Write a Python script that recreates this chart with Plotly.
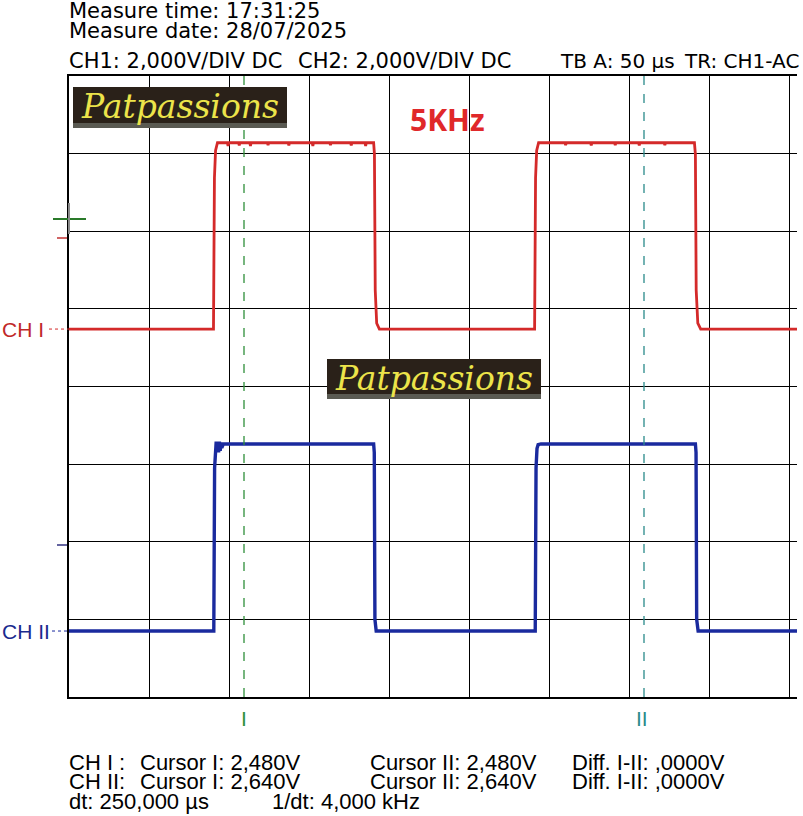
import plotly.graph_objects as go

# ---------------- data ----------------
# time in microseconds (50 us / div), voltage in volts (2 V / div)
ch1_t = [0, 90.3, 90.9, 91.6, 92.8,
         99.0, 99.4, 99.8, 106.0, 106.4, 106.8, 113.0, 113.4, 113.8, 124.0, 124.4, 124.8,
         137.0, 137.4, 137.8, 152.0, 152.4, 152.8, 163.0, 163.4, 163.8, 176.0, 176.4, 176.8,
         185.0, 185.4, 185.8,
         190.4, 190.9, 191.4, 192.3, 194.0,
         291.0, 291.6, 292.3, 293.5,
         310.0, 310.4, 310.8, 326.0, 326.4, 326.8, 341.0, 341.4, 341.8, 356.0, 356.4, 356.8,
         372.0, 372.4, 372.8,
         390.9, 391.5, 392.0, 393.0, 394.8, 455]
ch1_v = [0, 0, 3.9, 4.6, 4.8,
         4.8, 4.72, 4.8, 4.8, 4.73, 4.8, 4.8, 4.72, 4.8, 4.8, 4.74, 4.8,
         4.8, 4.73, 4.8, 4.8, 4.72, 4.8, 4.8, 4.74, 4.8, 4.8, 4.73, 4.8,
         4.8, 4.72, 4.8,
         4.8, 4.5, 1.0, 0.15, 0,
         0, 3.9, 4.6, 4.8,
         4.8, 4.74, 4.8, 4.8, 4.73, 4.8, 4.8, 4.74, 4.8, 4.8, 4.73, 4.8,
         4.8, 4.74, 4.8,
         4.8, 4.5, 1.0, 0.15, 0, 0]

ch2_t = [0, 90.5, 91.0, 91.6, 92.0, 92.5, 93.0, 93.5, 94.0, 94.5, 95.0, 95.5, 96.5,
         190.4, 190.8, 191.2, 192.0,
         291.4, 291.9, 292.5, 293.2, 295.0,
         391.5, 391.9, 392.3, 393.2, 455]
ch2_v = [0, 0, 4.2, 4.75, 4.88, 4.6, 4.88, 4.6, 4.88, 4.64, 4.86, 4.72, 4.82,
         4.82, 4.6, 0.3, 0,
         0, 4.2, 4.7, 4.8, 4.82,
         4.82, 4.6, 0.3, 0, 0]

ch1_offset_div = 0.74      # CH I ground position (divisions above centre)
ch2_offset_div = -3.15     # CH II ground position
volts_per_div = 2.0

cursor_t = [109.375, 359.375]
cursor_labels = ["I", "II"]

header_lines = ["Measure time: 17:31:25", "Measure date: 28/07/2025"]
setup_items = ["CH1: 2,000V/DIV DC", "CH2: 2,000V/DIV DC", "TB A: 50 µs", "TR: CH1-AC"]
bottom_rows = [
    ["CH I :", "Cursor I: 2,480V", "Cursor II: 2,480V", "Diff. I-II: ,0000V"],
    ["CH II:", "Cursor I: 2,640V", "Cursor II: 2,640V", "Diff. I-II: ,0000V"],
]
dt_items = ["dt: 250,000 µs", "1/dt: 4,000 kHz"]
freq_label = "5KHz"
logo_text = "Patpassions"

# ---------------- layout helpers ----------------
W, H = 803, 816
L, R, T, B = 69, 6, 76, 119
PW, PH = W - L - R, H - T - B


def px(x):
    return (x - L) / PW


def py(y):
    return (H - B - y) / PH


RED = "#d42a2a"
BLUE = "#1a2a9e"
GREEN = "#2f8f3a"
TEAL = "#2a8a8a"

fig = go.Figure()
fig.add_trace(go.Scatter(
    x=ch1_t, y=[ch1_offset_div + v / volts_per_div for v in ch1_v],
    mode="lines", line=dict(color=RED, width=2.8), hoverinfo="skip", showlegend=False))
fig.add_trace(go.Scatter(
    x=ch2_t, y=[ch2_offset_div + v / volts_per_div for v in ch2_v],
    mode="lines", line=dict(color=BLUE, width=3.4), hoverinfo="skip", showlegend=False))

shapes = []
annotations = []

# cursors
for t, lab, col in zip(cursor_t, cursor_labels, [GREEN, TEAL]):
    shapes.append(dict(type="line", xref="x", yref="paper", x0=t, x1=t, y0=0, y1=1,
                       line=dict(color=col, width=1.3, dash="dash"), layer="above"))
    annotations.append(dict(xref="x", yref="paper", x=t - (0 if lab == "I" else 1.5), y=py(718),
                            text=lab, showarrow=False, xanchor="center", yanchor="middle",
                            font=dict(family="Liberation Sans", size=21, color=col)))

# ground / trigger markers
shapes += [
    dict(type="line", xref="paper", yref="paper", x0=px(53), x1=px(86), y0=py(219), y1=py(219),
         line=dict(color="#2a7a2a", width=2)),
    dict(type="line", xref="paper", yref="paper", x0=px(69), x1=px(69), y0=py(203), y1=py(234),
         line=dict(color="#8a8a8a", width=2)),
    dict(type="line", xref="paper", yref="paper", x0=px(57), x1=px(67), y0=py(238), y1=py(238),
         line=dict(color="#c03030", width=1.5)),
    dict(type="line", xref="paper", yref="paper", x0=px(57), x1=px(67), y0=py(545), y1=py(545),
         line=dict(color="#303080", width=1.5)),
    dict(type="line", xref="paper", yref="y", x0=px(49), x1=px(69), y0=ch1_offset_div, y1=ch1_offset_div,
         line=dict(color=RED, width=1, dash="dot")),
    dict(type="line", xref="paper", yref="y", x0=px(52), x1=px(69), y0=ch2_offset_div, y1=ch2_offset_div,
         line=dict(color=BLUE, width=1, dash="dot")),
]
annotations.append(dict(xref="paper", yref="y", x=px(0), y=ch1_offset_div, text="CH I",
                        showarrow=False, xanchor="left", yanchor="middle",
                        font=dict(family="Liberation Sans", size=21, color="#c02828")))
annotations.append(dict(xref="paper", yref="y", x=px(0), y=ch2_offset_div, text="CH II",
                        showarrow=False, xanchor="left", yanchor="middle",
                        font=dict(family="Liberation Sans", size=21, color="#1a2a8e")))

# logos
for (x0, y0, x1, y1) in [(73, 87, 287, 128), (327, 359, 541, 399)]:
    shapes.append(dict(type="rect", xref="paper", yref="paper", x0=px(x0), x1=px(x1),
                       y0=py(y1), y1=py(y0), fillcolor="#2a2119", line=dict(width=0), layer="above"))
    shapes.append(dict(type="rect", xref="paper", yref="paper", x0=px(x0), x1=px(x1),
                       y0=py(y1), y1=py(y1 - 5), fillcolor="#5a5a52", line=dict(width=0), layer="above"))
    annotations.append(dict(xref="paper", yref="paper", x=px((x0 + x1) / 2), y=py((y0 + y1) / 2 - 1),
                            text=logo_text, showarrow=False, xanchor="center", yanchor="middle",
                            font=dict(family="DejaVu Serif", size=33, color="#ece44a", style="italic")))

annotations.append(dict(xref="paper", yref="paper", x=px(447), y=py(120), text=freq_label,
                        showarrow=False, xanchor="center", yanchor="middle",
                        font=dict(family="Open Sans", size=30, color="#e0282a", weight="bold")))

HDR = dict(family="DejaVu Sans", size=21, color="#000000")
HDR_S = dict(family="DejaVu Sans", size=20, color="#000000")
TXT = dict(family="Liberation Sans", size=22, color="#000000")
for txt, yy in zip(header_lines, [11, 31]):
    annotations.append(dict(xref="paper", yref="paper", x=px(69), y=py(yy), text=txt, showarrow=False,
                            xanchor="left", yanchor="middle", xshift=-2, font=HDR))
for txt, xx, fnt in zip(setup_items, [69, 298, 560, 684], [HDR, HDR, HDR_S, HDR_S]):
    annotations.append(dict(xref="paper", yref="paper", x=px(xx), y=py(61), text=txt, showarrow=False,
                            xanchor="left", yanchor="middle", xshift=-2, font=fnt))
for row, yy in zip(bottom_rows, [762, 781]):
    for txt, xx in zip(row, [69, 140, 370, 572]):
        annotations.append(dict(xref="paper", yref="paper", x=px(xx), y=py(yy), text=txt, showarrow=False,
                                xanchor="left", yanchor="middle", xshift=-2, font=TXT))
for txt, xx in zip(dt_items, [69, 272]):
    annotations.append(dict(xref="paper", yref="paper", x=px(xx), y=py(801), text=txt, showarrow=False,
                            xanchor="left", yanchor="middle", xshift=-2, font=TXT))

fig.update_layout(
    width=W, height=H, autosize=False,
    margin=dict(l=L, r=R, t=T, b=B, pad=0),
    paper_bgcolor="white", plot_bgcolor="white",
    shapes=shapes, annotations=annotations,
    xaxis=dict(range=[0, PW / 80 * 50], dtick=50, tick0=0, showgrid=True, gridcolor="#000000",
               gridwidth=1, zeroline=False, showticklabels=False, ticks="",
               showline=True, linecolor="#000000", linewidth=1.5, mirror=True, fixedrange=True),
    yaxis=dict(range=[-4, 4], dtick=1, tick0=0, showgrid=True, gridcolor="#000000", gridwidth=1,
               zeroline=False, showticklabels=False, ticks="", showline=True, linecolor="#000000",
               linewidth=1.5, fixedrange=True),
    showlegend=False,
)

fig.write_html("out.html", config={"displayModeBar": False},
               post_script="document.body.style.margin='0';document.body.style.padding='0';")
